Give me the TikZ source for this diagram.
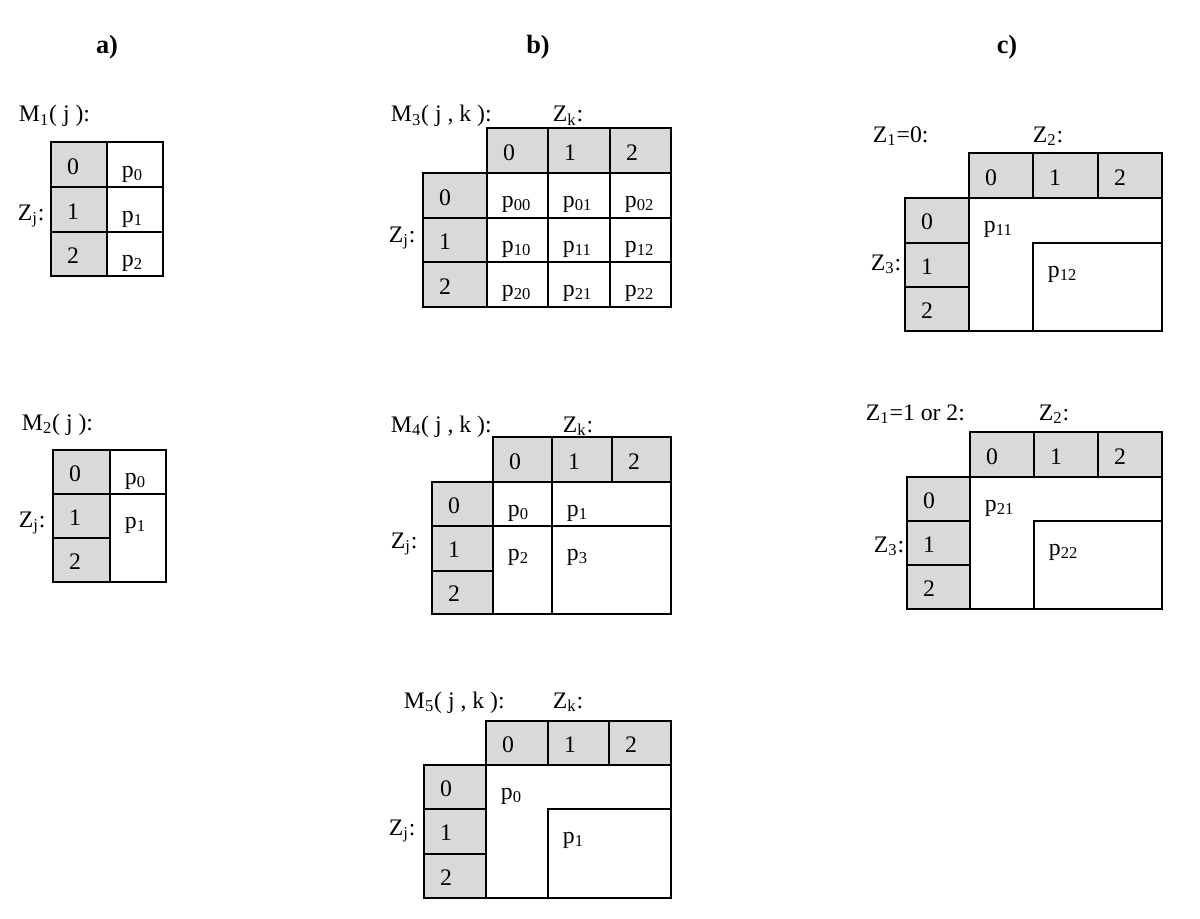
\documentclass[tikz,border=0pt]{standalone}
\usepackage{fontspec}
\setmainfont{Liberation Serif}
\usetikzlibrary{positioning}

\begin{document}
\begin{tikzpicture}[x=0.02cm,y=-0.02cm,line width=1.1pt,
		hdr/.style={fill=gray!30},
		every node/.style={inner sep=0pt,font=\fontsize{13.5}{15}\selectfont},
		digit/.style={anchor=base},
		prob/.style={anchor=base west},
		lbl/.style={anchor=base west},
		title/.style={anchor=base,font=\fontsize{15}{17}\selectfont\bfseries}]
		\useasboundingbox (0,0) rectangle (1200,919);
		% titles
		\node[title] (ta) at (107,54) {a)};
		\node[title] (tb) at (538,54) {b)};
		\node[title] (tc) at (1007,54) {c)};
		% a) M1
		\node[lbl] (m1) at (18,122) {M\textsubscript{1}( j ):};
		\node[lbl] (m1zj) at (17,220) {Z\textsubscript{j}:};
		\foreach \a/\b in {142/187,187/232,232/276}
		\draw[hdr] (51,\a) rectangle (107,\b);
		\foreach \a/\b in {142/187,187/232,232/276}
		\draw (107,\a) rectangle (163,\b);
		\foreach \y/\n in {174/0,219/1,263/2}
		\node[digit] (m1r\n) at (73,\y) {\n};
		\foreach \y/\n in {177/0,222/1,266/2}
		\node[prob] (m1p\n) at (121,\y) {p\textsubscript{\n}};
		% a) M2
		\node[lbl] (m2) at (21,430) {M\textsubscript{2}( j ):};
		\node[lbl] (m2zj) at (18,527) {Z\textsubscript{j}:};
		\foreach \a/\b in {450/494,494/538,538/582}
		\draw[hdr] (53,\a) rectangle (110,\b);
		\draw (110,450) rectangle (166,494);
		\draw (110,494) rectangle (166,582);
		\foreach \y/\n in {481/0,525/1,569/2}
		\node[digit] (m2r\n) at (75,\y) {\n};
		\node[prob] (m2p0) at (124,484) {p\textsubscript{0}};
		\node[prob] (m2p1) at (124,528) {p\textsubscript{1}};
		% b) M3
		\node[lbl] (m3) at (390,122) {M\textsubscript{3}( j , k ):};
		\node[lbl] (m3zk) at (552,122) {Z\textsubscript{k}:};
		\node[lbl] (m3zj) at (388,242) {Z\textsubscript{j}:};
		\foreach \a/\b in {487/548,548/610,610/671}
		\draw[hdr] (\a,128) rectangle (\b,173);
		\foreach \a/\b in {173/218,218/262,262/307}
		\draw[hdr] (423,\a) rectangle (487,\b);
		\foreach \a/\b in {487/548,548/610,610/671}
		\foreach \c/\d in {173/218,218/262,262/307}
		\draw (\a,\c) rectangle (\b,\d);
		\foreach \x/\n in {509/0,570/1,632/2}
		\node[digit] (m3c\n) at (\x,160) {\n};
		\foreach \y/\n in {205/0,249/1,294/2}
		\node[digit] (m3r\n) at (445,\y) {\n};
		\foreach \x/\j in {501/0,562/1,624/2}
		\foreach \y/\i in {207/0,252/1,296/2}
		\node[prob] (m3p\i\j) at (\x,\y) {p\textsubscript{\i\j}};
		% b) M4
		\node[lbl] (m4) at (390,432) {M\textsubscript{4}( j , k ):};
		\node[lbl] (m4zk) at (562,432) {Z\textsubscript{k}:};
		\node[lbl] (m4zj) at (390,548) {Z\textsubscript{j}:};
		\foreach \a/\b in {493/552,552/612,612/671}
		\draw[hdr] (\a,437) rectangle (\b,482);
		\foreach \a/\b in {482/526,526/571,571/614}
		\draw[hdr] (432,\a) rectangle (493,\b);
		\draw (493,482) rectangle (552,526);
		\draw (552,482) rectangle (671,526);
		\draw (493,526) rectangle (552,614);
		\draw (552,526) rectangle (671,614);
		\foreach \x/\n in {515/0,574/1,634/2}
		\node[digit] (m4c\n) at (\x,469) {\n};
		\foreach \y/\n in {513/0,557/1,601/2}
		\node[digit] (m4r\n) at (454,\y) {\n};
		\node[prob] (m4p0) at (507,516) {p\textsubscript{0}};
		\node[prob] (m4p1) at (566,516) {p\textsubscript{1}};
		\node[prob] (m4p2) at (507,560) {p\textsubscript{2}};
		\node[prob] (m4p3) at (566,560) {p\textsubscript{3}};
		% b) M5
		\node[lbl] (m5) at (403,708) {M\textsubscript{5}( j , k ):};
		\node[lbl] (m5zk) at (552,708) {Z\textsubscript{k}:};
		\node[lbl] (m5zj) at (388,835) {Z\textsubscript{j}:};
		\foreach \a/\b in {486/548,548/609,609/671}
		\draw[hdr] (\a,721) rectangle (\b,765);
		\foreach \a/\b in {765/809,809/854,854/898}
		\draw[hdr] (424,\a) rectangle (486,\b);
		\draw (486,765) rectangle (671,898);
		\draw (548,809) rectangle (671,898);
		\foreach \x/\n in {508/0,570/1,631/2}
		\node[digit] (m5c\n) at (\x,752) {\n};
		\foreach \y/\n in {796/0,840/1,885/2}
		\node[digit] (m5r\n) at (446,\y) {\n};
		\node[prob] (m5p0) at (500,799) {p\textsubscript{0}};
		\node[prob] (m5p1) at (562,843) {p\textsubscript{1}};
		% c) Z1=0
		\node[lbl] (c1) at (872,142) {Z\textsubscript{1}=0:};
		\node[lbl] (c1z2) at (1032,142) {Z\textsubscript{2}:};
		\node[lbl] (c1z3) at (870,270) {Z\textsubscript{3}:};
		\foreach \a/\b in {969/1033,1033/1098,1098/1162}
		\draw[hdr] (\a,153) rectangle (\b,198);
		\foreach \a/\b in {198/243,243/287,287/331}
		\draw[hdr] (905,\a) rectangle (969,\b);
		\draw (969,198) rectangle (1162,331);
		\draw (1033,243) rectangle (1162,331);
		\foreach \x/\n in {991/0,1055/1,1120/2}
		\node[digit] (c1c\n) at (\x,185) {\n};
		\foreach \y/\n in {229/0,274/1,318/2}
		\node[digit] (c1r\n) at (927,\y) {\n};
		\node[prob] (c1p11) at (983,232) {p\textsubscript{11}};
		\node[prob] (c1p12) at (1047,277) {p\textsubscript{12}};
		% c) Z1=1 or 2
		\node[lbl] (c2) at (865,420) {Z\textsubscript{1}=1 or 2:};
		\node[lbl] (c2z2) at (1038,420) {Z\textsubscript{2}:};
		\node[lbl] (c2z3) at (873,552) {Z\textsubscript{3}:};
		\foreach \a/\b in {970/1034,1034/1098,1098/1162}
		\draw[hdr] (\a,432) rectangle (\b,477);
		\foreach \a/\b in {477/521,521/565,565/609}
		\draw[hdr] (907,\a) rectangle (970,\b);
		\draw (970,477) rectangle (1162,609);
		\draw (1034,521) rectangle (1162,609);
		\foreach \x/\n in {992/0,1056/1,1120/2}
		\node[digit] (c2c\n) at (\x,464) {\n};
		\foreach \y/\n in {508/0,552/1,596/2}
		\node[digit] (c2r\n) at (929,\y) {\n};
		\node[prob] (c2p21) at (984,511) {p\textsubscript{21}};
		\node[prob] (c2p22) at (1048,555) {p\textsubscript{22}};
\end{tikzpicture}
\end{document}
